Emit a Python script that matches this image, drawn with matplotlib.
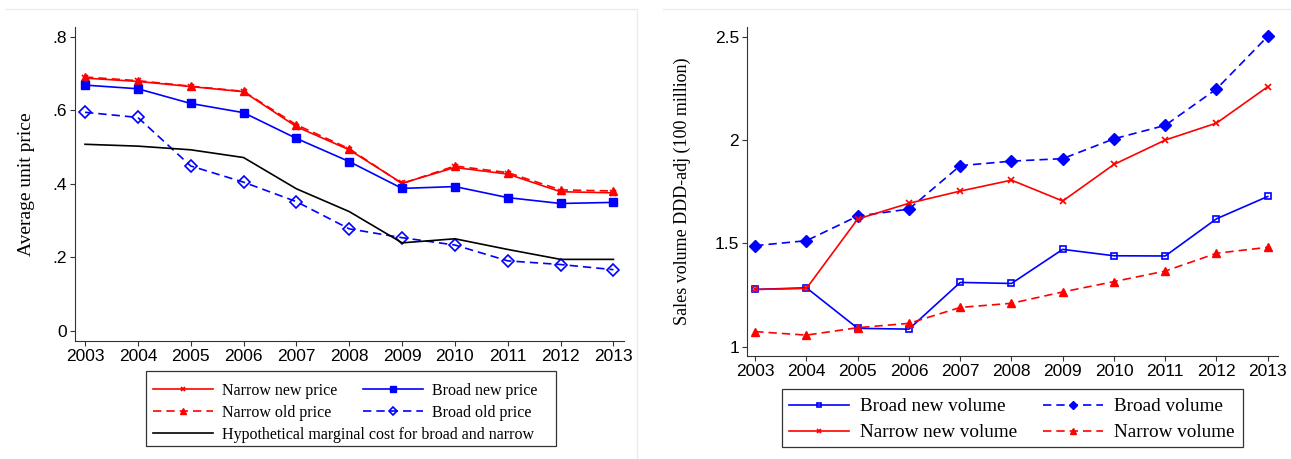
import numpy as np
import matplotlib
matplotlib.use('Agg')
import matplotlib.pyplot as plt
from matplotlib.lines import Line2D
from matplotlib.patches import Rectangle

years = list(range(2003, 2014))

# left panel: average unit price
narrow_new_price = [0.687, 0.678, 0.664, 0.650, 0.555, 0.492, 0.401, 0.444, 0.426, 0.378, 0.375]
narrow_old_price = [0.690, 0.680, 0.665, 0.651, 0.560, 0.495, 0.400, 0.448, 0.430, 0.383, 0.380]
broad_new_price = [0.668, 0.658, 0.618, 0.593, 0.523, 0.460, 0.387, 0.392, 0.362, 0.346, 0.349]
broad_old_price = [0.594, 0.580, 0.448, 0.404, 0.351, 0.277, 0.253, 0.233, 0.190, 0.180, 0.166]
marginal_cost = [0.507, 0.502, 0.492, 0.471, 0.386, 0.324, 0.239, 0.250, 0.221, 0.194, 0.194]

# right panel: sales volume
broad_new_volume = [1.277, 1.285, 1.089, 1.085, 1.311, 1.306, 1.471, 1.440, 1.439, 1.619, 1.727]
broad_volume = [1.489, 1.513, 1.632, 1.666, 1.876, 1.898, 1.910, 2.006, 2.071, 2.247, 2.502]
narrow_new_volume = [1.277, 1.282, 1.618, 1.694, 1.753, 1.806, 1.705, 1.882, 2.000, 2.082, 2.258]
narrow_volume = [1.073, 1.056, 1.092, 1.113, 1.190, 1.210, 1.265, 1.315, 1.366, 1.452, 1.481]

left_yticks = [0, 0.2, 0.4, 0.6, 0.8]
left_yticklabels = ['0', '.2', '.4', '.6', '.8']
right_yticks = [1, 1.5, 2, 2.5]
right_yticklabels = ['1', '1.5', '2', '2.5']

RED = '#ff0000'
BLUE = '#0000ff'
DASH = (0, (5, 3))
tick_font = ['Liberation Sans Narrow', 'Liberation Sans', 'DejaVu Sans']
serif_font = ['Liberation Serif', 'DejaVu Serif']

W, H = 1291, 459
fig = plt.figure(figsize=(W / 100, H / 100), dpi=100)
fig.patch.set_facecolor('white')

def px_box(x0, y0, x1, y1):
    # pixel box (top-left origin) -> figure fraction
    return [x0 / W, 1 - y1 / H, (x1 - x0) / W, (y1 - y0) / H]

def style_axes(ax):
    for s in ['top', 'right']:
        ax.spines[s].set_visible(False)
    for s in ['left', 'bottom']:
        ax.spines[s].set_color('#333333')
        ax.spines[s].set_linewidth(0.8)
    ax.tick_params(direction='out', length=3.6, width=0.8, color='#333333', pad=2)
    ax.set_xticks(years)
    for lab in ax.get_xticklabels() + ax.get_yticklabels():
        lab.set_family(tick_font)
        lab.set_fontsize(12.5)

# faint panel borders
fig.add_artist(Line2D([6 / W, 637 / W], [1 - 9 / H, 1 - 9 / H], color='#ebebeb', lw=1))
fig.add_artist(Line2D([637 / W, 637 / W], [1 - 9 / H, 0], color='#ebebeb', lw=1))
fig.add_artist(Line2D([663 / W, 1 - 1 / W], [1 - 9 / H, 1 - 9 / H], color='#ebebeb', lw=1))

# ---- left panel
ax1 = fig.add_axes(px_box(75, 27, 624, 341))
lw = 1.2
h_nn, = ax1.plot(years, narrow_new_price, color=RED, lw=lw, marker='x', ms=5, mew=1.2)
h_no, = ax1.plot(years, narrow_old_price, color=RED, lw=lw, ls=DASH, marker='^', ms=6)
h_bn, = ax1.plot(years, broad_new_price, color=BLUE, lw=lw, marker='s', ms=5.5)
h_bo, = ax1.plot(years, broad_old_price, color=BLUE, lw=lw, ls=DASH, marker='D', ms=6,
                 mfc='none', mew=1.2)
h_mc, = ax1.plot(years, marginal_cost, color='black', lw=lw)
ax1.set_xlim(2002.81, 2013.2)
ax1.set_ylim(-0.028, 0.826)
ax1.set_yticks(left_yticks)
ax1.set_yticklabels(left_yticklabels)
style_axes(ax1)
ax1.set_ylabel('Average unit price', family=serif_font, fontsize=14)
ax1.yaxis.set_label_coords((35 - 75) / (624 - 75), 0.5)

# ---- right panel
ax2 = fig.add_axes(px_box(747, 27, 1278, 356))
g_bn, = ax2.plot(years, broad_new_volume, color=BLUE, lw=lw, marker='s', ms=5,
                 mfc='none', mew=1.2)
g_bv, = ax2.plot(years, broad_volume, color=BLUE, lw=lw, ls=DASH, marker='D', ms=6.5)
g_nn, = ax2.plot(years, narrow_new_volume, color=RED, lw=lw, marker='x', ms=5, mew=1.2)
g_nv, = ax2.plot(years, narrow_volume, color=RED, lw=lw, ls=DASH, marker='^', ms=6)
ax2.set_xlim(2002.84, 2013.2)
ax2.set_ylim(0.955, 2.547)
ax2.set_yticks(right_yticks)
ax2.set_yticklabels(right_yticklabels)
style_axes(ax2)
ax2.set_ylabel('Sales volume DDD-adj (100 million)', family=serif_font, fontsize=13)
ax2.yaxis.set_label_coords((691 - 747) / (1278 - 747), 0.5)

# ---- legends (drawn column by column inside a drawn frame)
def column_legend(handles, labels, x_px, y_px, size, spacing):
    leg = fig.legend(handles, labels, loc='upper left',
                     bbox_to_anchor=(x_px / W, 1 - y_px / H),
                     frameon=False, borderpad=0, borderaxespad=0, markerscale=0.7,
                     handlelength=60 / (size * 100 / 72), handletextpad=0.55,
                     labelspacing=spacing, prop={'family': serif_font, 'size': size})
    return leg

fig.add_artist(Rectangle((146 / W, 1 - 446 / H), (556 - 146) / W, (446 - 371) / H,
                         transform=fig.transFigure, fill=False, ec='#333333', lw=0.9))
column_legend([h_nn, h_no, h_mc],
              ['Narrow new price', 'Narrow old price',
               'Hypothetical marginal cost for broad and narrow'],
              153, 383, 11.5, 0.37)
column_legend([h_bn, h_bo], ['Broad new price', 'Broad old price'], 363, 383, 11.5, 0.37)

fig.add_artist(Rectangle((782 / W, 1 - 447 / H), (1243 - 782) / W, (447 - 389) / H,
                         transform=fig.transFigure, fill=False, ec='#333333', lw=0.9))
column_legend([g_bn, g_nn], ['Broad new volume', 'Narrow new volume'], 789, 398, 13.8, 0.45)
column_legend([g_bv, g_nv], ['Broad volume', 'Narrow volume'], 1043, 398, 13.8, 0.45)

fig.savefig('out.png', dpi=100, facecolor='white')
